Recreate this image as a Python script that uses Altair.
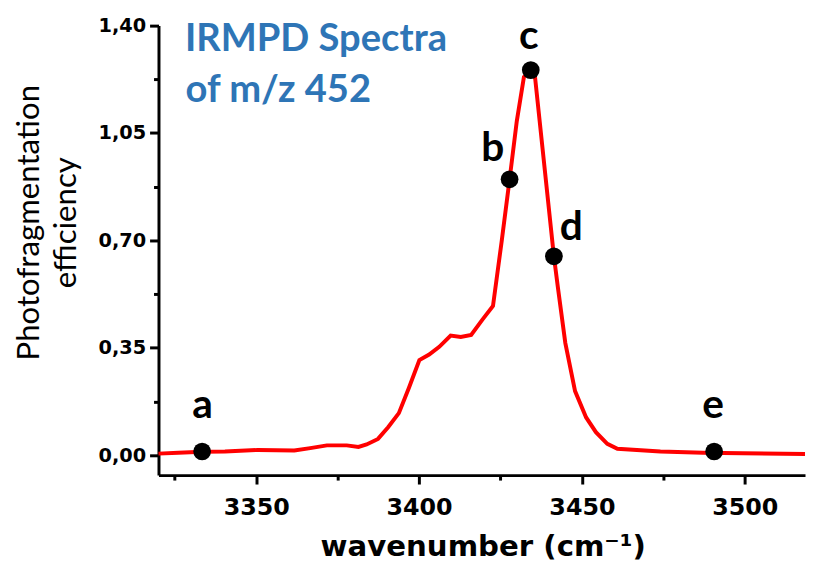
import altair as alt
import pandas as pd

# ---- data ----
wavenumber = [3320.0, 3326.1, 3333.4, 3340.4, 3350.5, 3361.7, 3366.6, 3371.7, 3377.8, 3381.4,
              3383.9, 3387.4, 3390.5, 3393.8, 3396.9, 3400.1, 3403.1, 3406.2, 3409.7, 3412.8,
              3416.0, 3419.4, 3422.7, 3425.4, 3427.8, 3430.0, 3432.2, 3434.3, 3435.6,
              3441.4, 3442.6, 3444.9, 3447.9, 3451.3, 3454.3, 3457.8, 3460.9, 3474.1,
              3487.2, 3499.4, 3518.5]
efficiency = [0.005, 0.008, 0.011, 0.012, 0.017, 0.015, 0.023, 0.032, 0.032, 0.027,
              0.035, 0.053, 0.091, 0.137, 0.220, 0.310, 0.328, 0.353, 0.390, 0.385,
              0.392, 0.441, 0.486, 0.700, 0.899, 1.088, 1.233, 1.255, 1.233,
              0.648, 0.549, 0.366, 0.209, 0.123, 0.075, 0.037, 0.021, 0.012,
              0.008, 0.006, 0.004]

point_names = ["a", "b", "c", "d", "e"]
point_x = [3333.4, 3427.8, 3434.3, 3441.4, 3490.6]
point_y = [0.012, 0.899, 1.255, 0.648, 0.012]
label_x = [3333.5, 3422.6, 3433.7, 3446.7, 3490.3]
label_y = [0.120, 0.958, 1.323, 0.700, 0.120]

x_ticks = [3325, 3350, 3375, 3400, 3425, 3450, 3475, 3500]
y_ticks = [0, 0.175, 0.35, 0.525, 0.70, 0.875, 1.05, 1.225, 1.40]

title_lines = ["IRMPD Spectra", "of m/z 452"]
y_title_lines = ["Photofragmentation", "efficiency"]
x_title = "wavenumber (cm\u207b\u00b9)"

spectrum = pd.DataFrame({"wn": wavenumber, "eff": efficiency})
points = pd.DataFrame({"name": point_names, "wn": point_x, "eff": point_y})
labels = pd.DataFrame({"name": point_names, "wn": label_x, "eff": label_y})

W, H = 653, 454

xscale = alt.Scale(domain=[3320, 3518.5], nice=False, zero=False)
yscale = alt.Scale(domain=[-0.065, 1.40], nice=False, zero=False)

major_x = "datum.value % 50 == 0"
major_y = "abs(datum.value*20/7 - round(datum.value*20/7)) < 0.01"

xaxis = alt.Axis(
    values=x_ticks, format="d", title=None, grid=False,
    labelExpr=f"{major_x} ? datum.label : ''",
    domainColor="black", domainWidth=3, tickColor="black", tickWidth=3,
    tickSize={"condition": {"test": major_x, "value": 9}, "value": 5},
    labelFont="DejaVu Sans", labelFontWeight="bold", labelFontSize=24,
    labelColor="black", labelPadding=12, labelFlush=False,
)
yaxis = alt.Axis(
    values=y_ticks, title=None, grid=False,
    labelExpr=f"{major_y} ? replace(format(datum.value, '.2f'), '.', ',') : ''",
    domainColor="black", domainWidth=3, tickColor="black", tickWidth=3,
    tickSize={"condition": {"test": major_y, "value": 9}, "value": 5},
    labelFont="DejaVu Sans", labelFontWeight="bold", labelFontSize=19.5,
    labelColor="black", labelPadding=4, labelFlush=False,
)

line = alt.Chart(spectrum).mark_line(color="#FF0000", strokeWidth=4).encode(
    x=alt.X("wn:Q", scale=xscale, axis=xaxis),
    y=alt.Y("eff:Q", scale=yscale, axis=yaxis),
)

dots = alt.Chart(points).mark_circle(size=320, color="black", opacity=1).encode(
    x=alt.X("wn:Q", scale=xscale),
    y=alt.Y("eff:Q", scale=yscale),
)

letters = alt.Chart(labels).mark_text(
    font="Lato", fontWeight="bold", fontSize=41, color="black",
    align="center", baseline="alphabetic",
).encode(
    x=alt.X("wn:Q", scale=xscale),
    y=alt.Y("eff:Q", scale=yscale),
    text="name:N",
)

blue = "#2E75B6"
t1 = alt.Chart(pd.DataFrame({"t": [title_lines[0]]})).mark_text(
    font="Lato", fontWeight="bold", fontSize=38.5, color=blue, align="left", baseline="alphabetic"
).encode(x=alt.value(26.7), y=alt.value(25.3), text="t:N")
t2 = alt.Chart(pd.DataFrame({"t": [title_lines[1]]})).mark_text(
    font="Lato", fontWeight="bold", fontSize=38.5, color=blue, align="left", baseline="alphabetic"
).encode(x=alt.value(27.3), y=alt.value(77), text="t:N")

yt1 = alt.Chart(pd.DataFrame({"t": [y_title_lines[0]]})).mark_text(
    font="Lato", fontSize=31.5, color="black", angle=270, align="center", baseline="alphabetic"
).encode(x=alt.value(-121), y=alt.value(199), text="t:N")
yt2 = alt.Chart(pd.DataFrame({"t": [y_title_lines[1]]})).mark_text(
    font="Lato", fontSize=31.5, color="black", angle=270, align="center", baseline="alphabetic"
).encode(x=alt.value(-83), y=alt.value(199), text="t:N")

xt = alt.Chart(pd.DataFrame({"t": [x_title]})).mark_text(
    font="DejaVu Sans", fontWeight="bold", fontSize=29.5,
    color="black", align="center", baseline="alphabetic"
).encode(x=alt.value(328), y=alt.value(536), text="t:N")

chart = alt.layer(line, dots, letters, t1, t2, yt1, yt2, xt).properties(
    width=W, height=H,
    autosize=alt.AutoSizeParams(type="none"),
    padding={"left": 152, "top": 15, "right": 1, "bottom": 90},
    background="white",
).configure_view(strokeWidth=0)

chart.save("out.html", embed_options={"renderer": "svg", "actions": False})
